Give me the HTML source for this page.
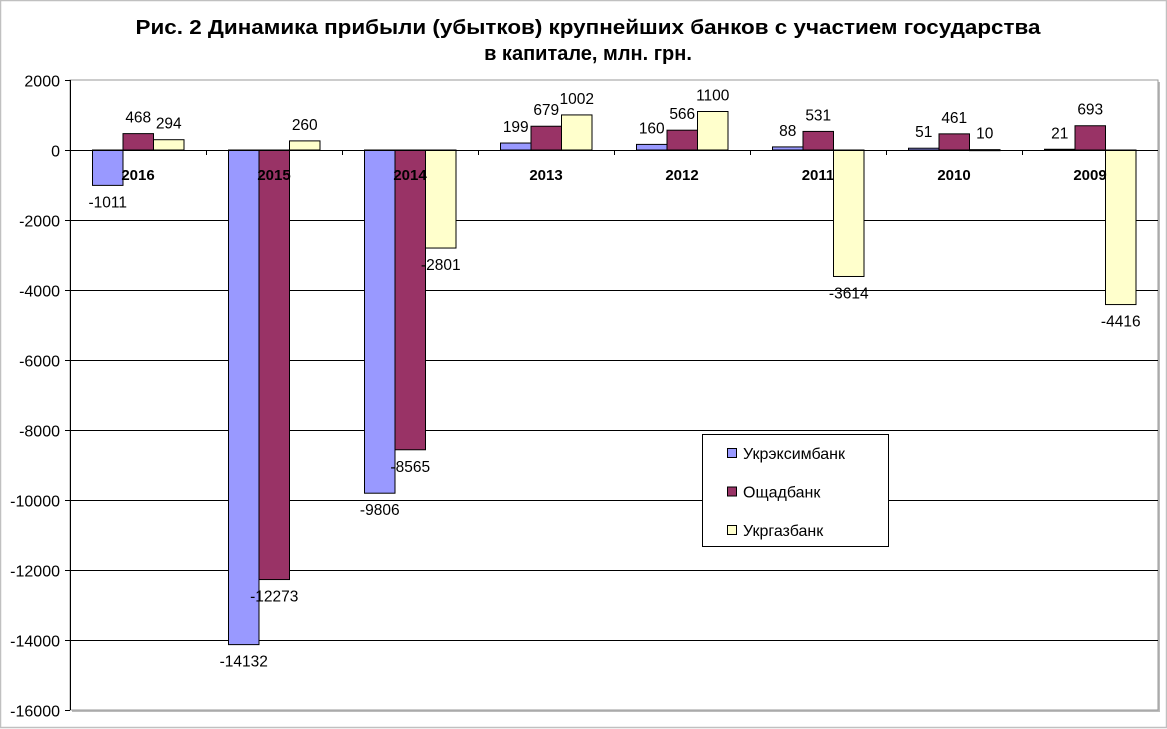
<!DOCTYPE html>
<html><head><meta charset="utf-8"><style>
html,body{margin:0;padding:0;background:#fff}
svg{display:block;font-family:"Liberation Sans",Arial,sans-serif}
</style></head><body>
<svg id="c" width="1167" height="729" viewBox="0 0 1167 729" xmlns="http://www.w3.org/2000/svg">
<rect x="0.5" y="0.5" width="1166" height="727" fill="#fff" stroke="#c0c0c0" stroke-width="1.5"/>
<text x="588" y="34" text-anchor="middle" font-size="20" font-weight="bold" textLength="905" lengthAdjust="spacingAndGlyphs">Рис. 2 Динамика прибыли (убытков) крупнейших банков с участием государства</text>
<text x="588" y="60" text-anchor="middle" font-size="20" font-weight="bold">в капитале, млн. грн.</text>
<g id="g"></g>
</svg>
<script>
var g=document.getElementById('g'),h='';
var s=0.035,y0=150,L=70,R=1158,T=80,B=710;
function Y(v){return y0-v*s;}
h+='<rect x="'+(L+2)+'" y="'+(T+2)+'" width="'+(R-L)+'" height="'+(B-T)+'" fill="#bbb"/>';
h+='<rect x="'+L+'" y="'+T+'" width="'+(R-L)+'" height="'+(B-T)+'" fill="#fff" stroke="#999" stroke-width="1"/>';
for(var v=2000;v>=-16000;v-=2000){var y=Math.round(Y(v))+0.5;
 if(v<2000&&v>-16000)h+='<line x1="'+L+'" x2="'+R+'" y1="'+y+'" y2="'+y+'" stroke="#000"/>';
 h+='<line x1="'+(L-5)+'" x2="'+L+'" y1="'+y+'" y2="'+y+'" stroke="#000"/>';
 h+='<text x="60" y="'+(y+6)+'" text-anchor="end" font-size="16">'+v+'</text>';}
h+='<line x1="'+(L+0.5)+'" x2="'+(L+0.5)+'" y1="'+T+'" y2="'+B+'" stroke="#000"/>';
var d=[['2016',-1011,468,294],['2015',-14132,-12273,260],['2014',-9806,-8565,-2801],['2013',199,679,1002],['2012',160,566,1100],['2011',88,531,-3614],['2010',51,461,10],['2009',21,693,-4416]];
var col=['#9999FF','#993366','#FFFFCC'],cw=(R-L)/8,bw=30.5,lab='';
d.forEach(function(r,i){var cx=L+cw*i+cw/2;
 for(var k=0;k<3;k++){var v=r[k+1],x=cx-45.5+k*bw,yt=Math.min(Y(v),y0),hh=Math.abs(v*s);
  h+='<rect x="'+x+'" y="'+yt+'" width="'+bw+'" height="'+Math.max(hh,1)+'" fill="'+col[k]+'" stroke="#000" stroke-width="1"/>';
  var ty=v>=0?Y(v)-11:Y(v)+22;
  lab+='<text x="'+(x+bw/2)+'" y="'+ty+'" text-anchor="middle" font-size="15.5">'+v+'</text>';}
 lab+='<text x="'+cx+'" y="180" text-anchor="middle" font-size="15" font-weight="bold">'+r[0]+'</text>';
 if(i>0){var tx=Math.round(L+cw*i)+0.5;h+='<line x1="'+tx+'" x2="'+tx+'" y1="'+y0+'" y2="'+(y0+5)+'" stroke="#000"/>';}
});
h+='<line x1="'+L+'" x2="'+R+'" y1="'+(y0+0.5)+'" y2="'+(y0+0.5)+'" stroke="#000"/>';
h+=lab;
h+='<rect x="702.5" y="434.5" width="186" height="112" fill="#fff" stroke="#000"/>';
var nm=['Укрэксимбанк','Ощадбанк','Укргазбанк'];
for(var k=0;k<3;k++){var yy=449+k*38.5;
 h+='<rect x="727.5" y="'+(yy-0.5)+'" width="9" height="9" fill="'+col[k]+'" stroke="#000"/>';
 h+='<text x="743" y="'+(yy+10)+'" font-size="16">'+nm[k]+'</text>';}
g.innerHTML=h;
</script>
</body></html>
